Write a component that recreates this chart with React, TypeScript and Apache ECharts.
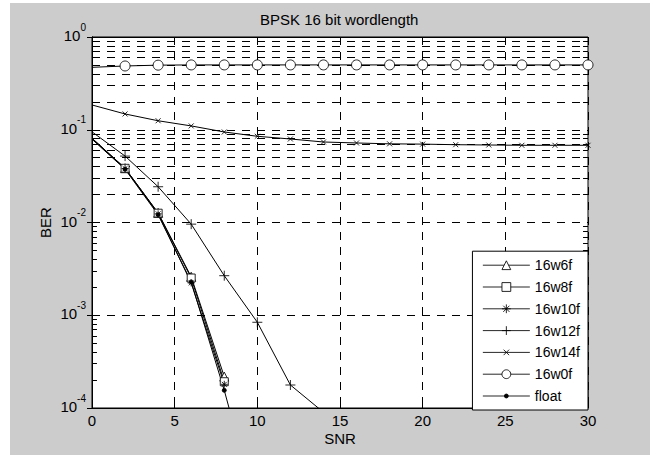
import React, { useEffect, useRef } from 'react';
import * as echarts from 'echarts';

// ---- data ----
const SNR = [0, 2, 4, 6, 8, 10, 12, 14, 16, 18, 20, 22, 24, 26, 28, 30];
const BER_16W6F = [0.081, 0.0385, 0.0127, 0.0026, 0.000218];
const BER_16W8F = [0.081, 0.0384, 0.0126, 0.00252, 0.000192];
const BER_16W10F = [0.08, 0.0382, 0.0124, 0.00223, 0.00018];
const BER_16W12F = [0.095, 0.052, 0.0243, 0.0096, 0.00267, 0.00084, 0.000177, 0.00009];
const BER_16W14F = [0.185, 0.148, 0.125, 0.11, 0.0946, 0.085, 0.0795, 0.0738, 0.072, 0.0705, 0.07, 0.069, 0.0685, 0.068, 0.068, 0.068];
const BER_16W0F = [0.471, 0.487, 0.497, 0.5, 0.5, 0.5, 0.5, 0.5, 0.5, 0.5, 0.5, 0.5, 0.5, 0.5, 0.5, 0.5];
const BER_FLOAT = [0.079, 0.0375, 0.0121, 0.00229, 0.000155, 0.0000075];
const SERIES_NAMES = ['16w6f', '16w8f', '16w10f', '16w12f', '16w14f', '16w0f', 'float'];
const X_MIN = 0;
const X_MAX = 30;
const X_STEP = 5;
const Y_MIN = 1e-4;
const Y_MAX = 1;
const MINOR_MULTIPLIERS = [2, 3, 4, 5, 6, 7, 8, 9];
const MINOR_DECADES = [-4, -3, -2, -1];

const FONT = 'Liberation Sans, Arial, Helvetica, sans-serif';
const DASH = [8, 7];
const LW = 1;
const MW = 0.85;
const TICK_SPAN = 0.3; // minor tick length in SNR units

const PLUS = 'path://M5,0L5,10M0,5L10,5';
// padded (the extra moveTo points enlarge the box so the glyph is drawn smaller)
const CROSS = 'path://M-3,-3M13,13M0,0L10,10M10,0L0,10';
const STAR = 'path://M5,0L5,10M0,5L10,5M1.5,1.5L8.5,8.5M8.5,1.5L1.5,8.5';
const DOT = 'path://M-4,-4M14,14M5,1A4,4,0,1,1,5,9A4,4,0,1,1,5,1Z';

function pts(vals: number[]) {
  return vals.map((v, i) => (i === 0 ? { value: [SNR[i], v], symbol: 'none' } : [SNR[i], v]));
}

export default function App() {
  const ref = useRef<HTMLDivElement>(null);
  useEffect(() => {
    if (!ref.current) return;
    const chart = echarts.init(ref.current, null, { renderer: 'svg' });
    const minorVals: number[] = [];
    MINOR_DECADES.forEach((d) => MINOR_MULTIPLIERS.forEach((m) => minorVals.push(m * Math.pow(10, d))));
    const minorLines = minorVals.map((v) => ({ yAxis: v }));
    const minorTicks: any[] = [];
    minorVals.forEach((v) => {
      minorTicks.push([{ coord: [X_MIN, v] }, { coord: [X_MIN + TICK_SPAN, v] }]);
      minorTicks.push([{ coord: [X_MAX - TICK_SPAN, v] }, { coord: [X_MAX, v] }]);
    });

    const seriesDefs = [
      { name: SERIES_NAMES[0], vals: BER_16W6F, symbol: 'triangle', size: 9, fill: '#fff' },
      { name: SERIES_NAMES[1], vals: BER_16W8F, symbol: 'rect', size: 8, fill: '#fff' },
      { name: SERIES_NAMES[2], vals: BER_16W10F, symbol: STAR, size: 7, fill: '#000' },
      { name: SERIES_NAMES[3], vals: BER_16W12F, symbol: PLUS, size: 10, fill: '#000' },
      { name: SERIES_NAMES[4], vals: BER_16W14F, symbol: CROSS, size: 8, fill: '#000' },
      { name: SERIES_NAMES[5], vals: BER_16W0F, symbol: 'circle', size: 10, fill: '#fff' },
      { name: SERIES_NAMES[6], vals: BER_FLOAT, symbol: DOT, size: 9, fill: '#000' },
    ];
    const series: any[] = seriesDefs.map((s, idx) => ({
      type: 'line',
      name: s.name,
      data: pts(s.vals),
      symbol: s.symbol,
      symbolSize: s.size,
      showSymbol: true,
      clip: true,
      lineStyle: { color: '#000', width: LW },
      itemStyle: { color: s.fill, borderColor: '#000', borderWidth: MW },
      emphasis: { disabled: true },
      z: 3,
      markLine:
        idx === 0
          ? {
              silent: true,
              symbol: 'none',
              label: { show: false },
              lineStyle: { color: '#000', width: 1, type: DASH },
              emphasis: { disabled: true },
              data: minorLines,
              z: 1,
            }
          : idx === 1
          ? {
              silent: true,
              symbol: 'none',
              label: { show: false },
              lineStyle: { color: '#000', width: 1, type: 'solid' },
              emphasis: { disabled: true },
              data: minorTicks,
              z: 1,
            }
          : undefined,
    }));

    const axisCommon = {
      axisLine: { show: true, lineStyle: { color: '#000', width: 1 } },
      axisTick: { show: true, inside: true, length: 5, lineStyle: { color: '#000' } },
    };

    chart.setOption({
      animation: false,
      backgroundColor: '#cccccc',
      textStyle: { fontFamily: FONT },
      title: {
        text: 'BPSK 16 bit wordlength',
        left: 250,
        top: 9,
        padding: 0,
        textStyle: { fontFamily: FONT, fontSize: 15, fontWeight: 'normal', color: '#000' },
      },
      grid: {
        left: 82,
        top: 34,
        right: 62,
        bottom: 47,
        show: true,
        backgroundColor: '#fff',
        borderColor: '#000',
        borderWidth: 1,
      },
      legend: {
        data: SERIES_NAMES,
        orient: 'vertical',
        right: 62,
        bottom: 45,
        itemWidth: 47,
        itemHeight: 11,
        itemGap: 5.8,
        padding: [6, 8, 6, 10],
        backgroundColor: '#fff',
        borderColor: '#000',
        borderWidth: 1,
        borderRadius: 0,
        selectedMode: false,
        lineStyle: { width: MW },
        itemStyle: { borderWidth: MW },
        textStyle: { fontFamily: FONT, fontSize: 14, color: '#000', lineHeight: 16 },
      },
      xAxis: [
        {
          type: 'value',
          min: X_MIN,
          max: X_MAX,
          interval: X_STEP,
          name: 'SNR',
          nameLocation: 'middle',
          nameGap: 23,
          nameMoveOverlap: false,
          nameTextStyle: { fontFamily: FONT, fontSize: 15, color: '#000' },
          ...axisCommon,
          axisLabel: { fontFamily: FONT, fontSize: 15, color: '#000', margin: 5 },
          splitLine: { show: true, lineStyle: { color: '#000', width: 1, type: DASH } },
        },
        {
          type: 'value',
          position: 'top',
          min: X_MIN,
          max: X_MAX,
          interval: X_STEP,
          ...axisCommon,
          axisLabel: { show: false },
          splitLine: { show: false },
        },
      ],
      yAxis: [
        {
          type: 'log',
          logBase: 10,
          min: Y_MIN,
          max: Y_MAX,
          name: 'BER',
          nameLocation: 'middle',
          nameGap: 39,
          nameMoveOverlap: false,
          nameTextStyle: { fontFamily: FONT, fontSize: 15, color: '#000' },
          ...axisCommon,
          axisLabel: {
            margin: 6,
            formatter: (v: number) => `{b|10}{s|${Math.round(Math.log10(v))}}`,
            rich: {
              b: { fontFamily: FONT, fontSize: 15, color: '#000', lineHeight: 16, padding: [0, 0, 3, 0] },
              s: { fontFamily: FONT, fontSize: 10, color: '#000', lineHeight: 10, padding: [0, 0, 20, 0] },
            },
          },
          splitLine: { show: true, lineStyle: { color: '#000', width: 1, type: DASH } },
        },
        {
          type: 'log',
          logBase: 10,
          min: Y_MIN,
          max: Y_MAX,
          position: 'right',
          ...axisCommon,
          axisLabel: { show: false },
          splitLine: { show: false },
        },
      ],
      series,
    });
    return () => chart.dispose();
  }, []);
  return (
    <div style={{ position: 'absolute', left: 0, top: 0, width: 652, height: 457, background: '#fff' }}>
      <div ref={ref} style={{ position: 'absolute', left: 10, top: 3, width: 640, height: 452 }} />
    </div>
  );
}
